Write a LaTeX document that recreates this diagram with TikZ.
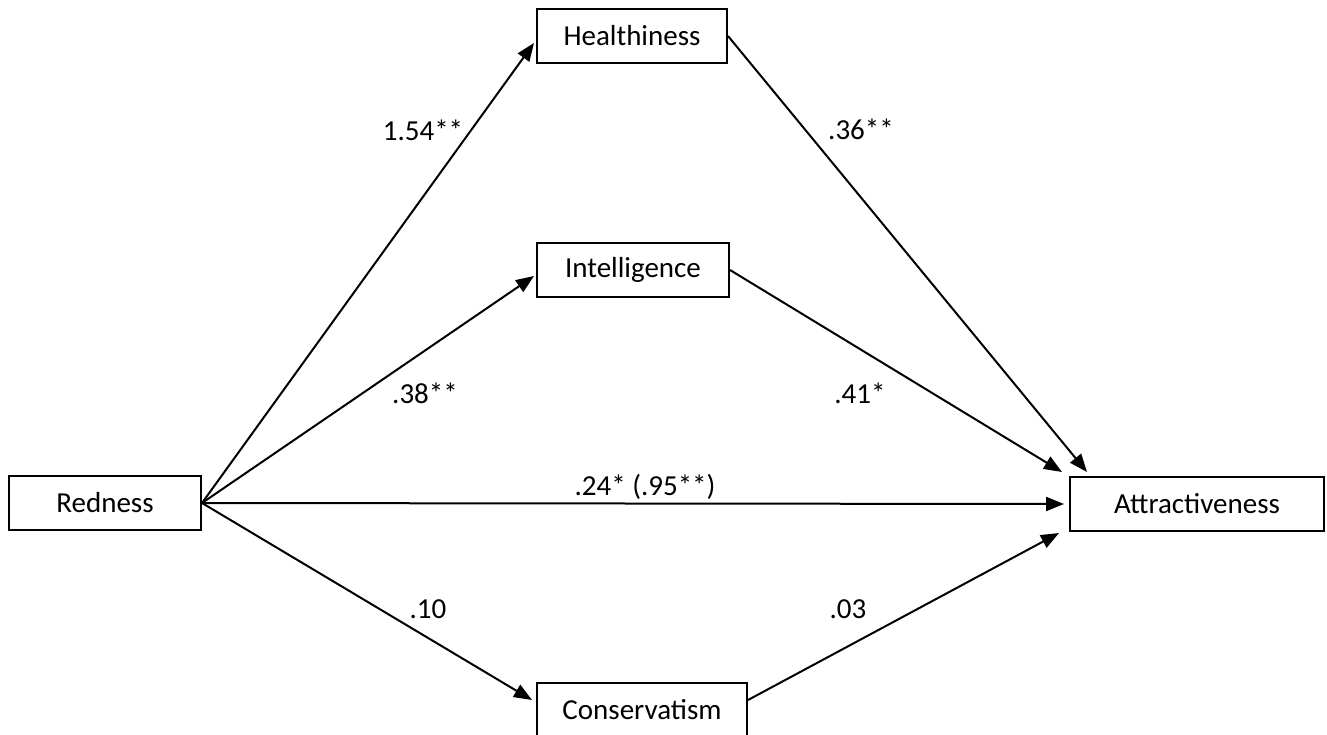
\documentclass[tikz,border=0pt]{standalone}
\usepackage{fontspec}
\setmainfont{Carlito}
\usetikzlibrary{arrows.meta}
\begin{document}
\begin{tikzpicture}[x=0.5pt,y=-0.5pt,
  box/.style={draw=black,line width=1pt,rectangle,minimum height=27pt,inner sep=0pt,font=\fontsize{14.5}{16}\selectfont},
  lab/.style={anchor=base,inner sep=0pt,font=\fontsize{14.5}{16}\selectfont},
  conn/.style={line width=1pt,-{Triangle[length=9pt,width=7pt]}}]
\useasboundingbox[fill=white] (0,0) rectangle (1327,734);
\node[box,minimum width=96pt] (red) at (105,503) {Redness};
\node[box,minimum width=95pt] (hea) at (632,36) {Healthiness};
\node[box,minimum width=96pt] (int) at (633,270) {Intelligence};
\node[box,minimum width=127pt] (att) at (1197,504) {Attractiveness};
\node[box,minimum width=105pt] (con) at (642,710) {Conservatism};
\draw[conn] (red.east) -- ([xshift=-1pt,yshift=-3.5pt]hea.west);
\draw[conn] (red.east) -- ([xshift=-1pt,yshift=-3pt]int.west);
\draw[conn] (red.east) -- ([xshift=-2.5pt]att.west);
\draw[conn] (red.east) -- ([xshift=-2pt,yshift=5pt]con.west);
\draw[conn] (hea.east) -- ([xshift=9pt,yshift=2pt]att.north west);
\draw[conn] (int.east) -- ([xshift=-3.5pt,yshift=2pt]att.north west);
\draw[conn] ([yshift=5pt]con.east) -- ([xshift=-5pt,yshift=-0.5pt]att.south west);
\node[lab] (l1) at (423,140) {1.54**};
\node[lab] (l2) at (861,139) {.36**};
\node[lab] (l3) at (425,403) {.38**};
\node[lab] (l4) at (860,403) {.41*};
\node[lab] (l5) at (645,495) {.24* (.95**)};
\node[lab] (l6) at (428,618) {.10};
\node[lab] (l7) at (848,618) {.03};
\end{tikzpicture}
\end{document}
